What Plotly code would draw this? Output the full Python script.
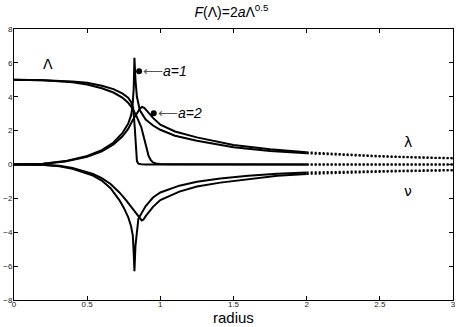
import numpy as np
import plotly.graph_objects as go

# Lambda (capital), a=1 and a=2
cap_r1 = [0, 0.2, 0.4, 0.5, 0.6, 0.68, 0.74, 0.78, 0.8, 0.815, 0.825, 0.832, 0.84, 0.85, 0.87, 0.9, 1.5, 2.0, 2.5, 3.0]
cap_y1 = [5.0, 4.98, 4.9, 4.82, 4.65, 4.45, 4.2, 3.95, 3.7, 3.3, 2.2, 0.8, 0.2, 0.05, 0.01, 0, 0, 0, 0, 0]
cap_r2 = [0, 0.2, 0.4, 0.5, 0.6, 0.68, 0.74, 0.78, 0.81, 0.84, 0.87, 0.89, 0.905, 0.92, 0.935, 0.95, 0.97, 1.0, 1.1, 1.5, 2.0, 2.5, 3.0]
cap_y2 = [5.0, 4.97, 4.85, 4.72, 4.5, 4.25, 3.95, 3.65, 3.3, 2.8, 2.2, 1.5, 0.9, 0.5, 0.25, 0.12, 0.06, 0.03, 0.01, 0, 0, 0, 0]

# lambda, a=1 and a=2
lam_r1 = [0, 0.2, 0.35, 0.5, 0.6, 0.68, 0.74, 0.78, 0.8, 0.81, 0.818, 0.823, 0.83, 0.84, 0.86, 0.9, 0.95,
          1.0, 1.1, 1.25, 1.5, 1.75, 2.0, 2.25, 2.5, 2.75, 3.0]
lam_y1 = [0, 0.05, 0.2, 0.5, 0.85, 1.3, 1.85, 2.4, 2.9, 3.4, 4.5, 6.3, 5.0, 4.0, 3.2, 2.65, 2.3,
          2.05, 1.7, 1.4, 1.02, 0.8, 0.66, 0.55, 0.47, 0.41, 0.36]
lam_r2 = [0, 0.2, 0.35, 0.5, 0.6, 0.68, 0.74, 0.78, 0.81, 0.84, 0.86, 0.875, 0.89, 0.91, 0.95,
          1.0, 1.1, 1.25, 1.5, 1.75, 2.0, 2.25, 2.5, 2.75, 3.0]
lam_y2 = [0, 0.04, 0.18, 0.45, 0.78, 1.18, 1.65, 2.1, 2.6, 3.05, 3.3, 3.4, 3.35, 3.15, 2.75,
          2.35, 1.95, 1.6, 1.15, 0.9, 0.72, 0.6, 0.5, 0.43, 0.38]

# nu, a=1 and a=2
nu_r1 = [0, 0.2, 0.31, 0.4, 0.54, 0.6, 0.66, 0.72, 0.75, 0.78, 0.8, 0.812, 0.818, 0.823, 0.83, 0.85, 0.9, 0.95,
         1.0, 1.13, 1.25, 1.41, 1.6, 1.8, 2.0, 2.25, 2.6, 3.0]
nu_y1 = [0, -0.03, -0.1, -0.25, -0.65, -0.95, -1.4, -2.1, -2.55, -3.1, -3.65, -4.2, -5.2, -6.3, -4.8, -3.2, -2.45, -1.95,
         -1.65, -1.25, -1.02, -0.83, -0.66, -0.54, -0.47, -0.42, -0.37, -0.32]
nu_r2 = [0, 0.2, 0.31, 0.4, 0.54, 0.6, 0.66, 0.72, 0.76, 0.8, 0.84, 0.86, 0.873, 0.885, 0.9, 0.95,
         1.0, 1.13, 1.25, 1.41, 1.6, 1.8, 2.0, 2.25, 2.6, 3.0]
nu_y2 = [0, -0.02, -0.08, -0.2, -0.55, -0.8, -1.15, -1.65, -2.05, -2.5, -2.95, -3.2, -3.3, -3.25, -3.05, -2.5,
         -2.1, -1.6, -1.3, -1.07, -0.85, -0.66, -0.56, -0.48, -0.41, -0.35]

x_ticks = [0, 0.5, 1, 1.5, 2, 2.5, 3]
y_ticks = [-8, -6, -4, -2, 0, 2, 4, 6, 8]

curves = [(cap_r1, cap_y1), (cap_r2, cap_y2), (lam_r1, lam_y1),
          (lam_r2, lam_y2), (nu_r1, nu_y1), (nu_r2, nu_y2)]
r_dot = 2.0  # curves look dotted further out

fig = go.Figure()
for r, y in curves:
    r = np.array(r)
    y = np.array(y)
    solid = r <= r_dot
    dotted = r >= r_dot
    fig.add_trace(go.Scatter(x=r[solid], y=y[solid], mode='lines',
                             line=dict(color='black', width=2), showlegend=False))
    fig.add_trace(go.Scatter(x=r[dotted], y=y[dotted], mode='lines',
                             line=dict(color='black', width=2, dash='2px,2px'), showlegend=False))

# marker dots for a=1 / a=2
fig.add_trace(go.Scatter(x=[0.855, 0.955], y=[5.5, 3.03], mode='markers',
                         marker=dict(color='black', size=6), showlegend=False))

axis_common = dict(showline=True, linecolor='black', linewidth=1, mirror='ticks',
                   ticks='inside', ticklen=4, tickcolor='black', showgrid=False, zeroline=False,
                   automargin=False,
                   tickfont=dict(family='Liberation Sans, Arial', size=8, color='#222'))
fig.update_xaxes(range=[0, 3], tickvals=x_ticks, ticktext=[str(v) for v in x_ticks],
                 ticklabelstandoff=-4, **axis_common)
fig.update_yaxes(range=[-8, 8], tickvals=y_ticks, ticklabelstandoff=-1, **axis_common)

greek = dict(family='DejaVu Sans, sans-serif', size=14, color='black')
label_font = dict(family='Liberation Sans, Arial', size=14, color='black')
annots = [
    dict(x=0.23, y=5.95, text='Λ', font=greek),
    dict(x=2.69, y=1.3, text='λ', font=greek),
    dict(x=2.69, y=-1.55, text='ν', font=greek),
    dict(x=0.87, y=5.5, text='<span style="color:#555">⟵</span><i>a=1</i>', xanchor='left', font=label_font),
    dict(x=0.97, y=3.03, text='<span style="color:#555">⟵</span><i>a=2</i>', xanchor='left', font=label_font),
    dict(x=0.5, y=-0.066, xref='paper', yref='paper', yanchor='middle', text='radius',
         font=dict(family='Liberation Sans, Arial', size=15, color='black')),
]
for a in annots:
    a.setdefault('xref', 'x')
    a.setdefault('yref', 'y')
    fig.add_annotation(showarrow=False, **a)

fig.update_layout(
    width=463, height=327,
    margin=dict(l=14, r=10, t=29, b=27),
    plot_bgcolor='white', paper_bgcolor='white',
    title=dict(text='<i>F</i>(Λ)=2<i>a</i>Λ<sup>0.5</sup>', x=0.5, xanchor='center',
               y=0.962, yanchor='middle',
               font=dict(family='Liberation Sans, Arial', size=14, color='black')),
)

fig.write_html("out.html", config={'displayModeBar': False},
               post_script="document.body.style.margin='0';document.body.style.overflow='hidden';")
